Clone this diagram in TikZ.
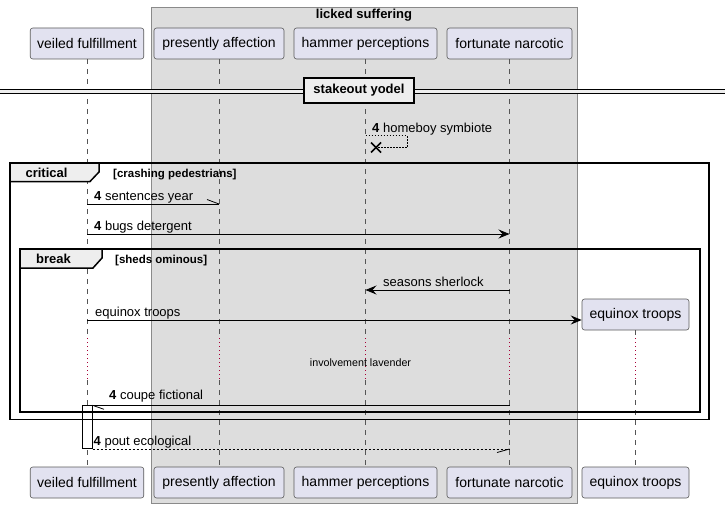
\documentclass[tikz,border=0pt]{standalone}
\usepackage{fontspec}
\setmainfont{Liberation Sans}
\usetikzlibrary{arrows.meta}
\definecolor{partfill}{HTML}{E2E2F0}
\definecolor{partline}{HTML}{5A5A5A}
\definecolor{grpfill}{HTML}{DDDDDD}
\definecolor{grpline}{HTML}{8A8A8A}
\definecolor{lifecol}{HTML}{555555}
\definecolor{tabfill}{HTML}{EEEEEE}
\definecolor{delaycol}{HTML}{A80036}
\tikzset{
  part/.style={draw=partline, line width=0.6pt, fill=partfill, rounded corners=2.5pt,
    minimum height=31pt, inner sep=0pt, font=\fontsize{14}{16}\selectfont},
  lifel/.style={draw=lifecol, line width=0.6pt, dash pattern=on 5pt off 5pt},
  delayl/.style={draw=delaycol, line width=0.8pt, dash pattern=on 1pt off 3pt},
  msg/.style={draw=black, line width=0.8pt},
  retmsg/.style={draw=black, line width=0.8pt, dash pattern=on 2pt off 2pt},
  msgtxt/.style={anchor=base west, inner sep=0pt, font=\fontsize{13}{15}\selectfont},
  fragframe/.style={draw=black, line width=1.5pt},
  fragtab/.style={draw=black, line width=1.5pt, fill=tabfill},
  fragtitle/.style={inner sep=0pt, font=\fontsize{13}{15}\selectfont\bfseries},
  fragcond/.style={anchor=base west, inner sep=0pt, font=\fontsize{11.5}{13}\selectfont\bfseries},
  arr/.style={-{Stealth[length=11pt,width=9pt,inset=4pt]}}
}
\begin{document}
\begin{tikzpicture}[x=1pt,y=-1pt]
\useasboundingbox (0,0) rectangle (725,508);
% group box
\filldraw[fill=grpfill, draw=grpline, line width=0.7pt] (151,7) rectangle (577,503);
\node[inner sep=0pt, font=\fontsize{13}{15}\selectfont\bfseries] (grp) at (364,15) {licked suffering};
% participants
\node[part, minimum width=113.5pt] (vf) at (87,43.5) {veiled fulfillment};
\node[part, minimum width=130pt] (pa) at (219,43.5) {presently affection};
\node[part, minimum width=143pt] (hp) at (365.5,43.5) {hammer perceptions};
\node[part, minimum width=125pt] (fn) at (509.5,43.5) {fortunate narcotic};
\node[part, minimum width=107pt] (et) at (635.5,314.5) {equinox troops};
\node[part, minimum width=113.5pt] (bvf) at (87,482.5) {veiled fulfillment};
\node[part, minimum width=130pt] (bpa) at (219,482.5) {presently affection};
\node[part, minimum width=143pt] (bhp) at (365.5,482.5) {hammer perceptions};
\node[part, minimum width=125pt] (bfn) at (509.5,482.5) {fortunate narcotic};
\node[part, minimum width=107pt] (bet) at (635.5,482.5) {equinox troops};
% lifelines
\coordinate (dtop) at (0,338);
\coordinate (dbot) at (0,380);
\foreach \p in {vf,pa,hp,fn,et}{
  \draw[lifel] (\p.south) -- (\p.south |- dtop);
  \draw[delayl] (\p.south |- dtop) -- (\p.south |- dbot);
  \draw[lifel] (\p.south |- dbot) -- (b\p.north);
}
% divider
\coordinate (dvl) at (0,89);
\coordinate (dvr) at (725,93.5);
\fill[tabfill] (dvl) rectangle (dvr);
\draw[line width=0.8pt] (0,89) -- (725,89);
\draw[line width=0.8pt] (0,93.5) -- (725,93.5);
\node[draw=black, line width=1.5pt, fill=tabfill, minimum width=110pt, minimum height=25pt,
  inner sep=0pt, font=\fontsize{13}{15}\selectfont\bfseries] (div) at (359,90.5) {stakeout yodel};
% self message with destroy
\coordinate (h1) at (365.5,135.5);
\coordinate (h2) at (407,135.5);
\coordinate (h3) at (407,147.5);
\coordinate (hx) at (376,147.5);
\draw[line width=0.7pt, dash pattern=on 1.5pt off 1.5pt] (h1) -- (h2) -- (h3) -- (hx);
\draw[line width=1.6pt] ([shift={(-5,-5)}]hx) -- ([shift={(5,5)}]hx);
\draw[line width=1.6pt] ([shift={(-5,5)}]hx) -- ([shift={(5,-5)}]hx);
\node[msgtxt] (t0) at (372,132) {\textbf{4} homeboy symbiote};
% activation
\draw[fill=white, line width=0.7pt] (82.3,405) rectangle (92.5,448.8);
% frames
\draw[fragframe] (10,163) rectangle (709,419.5);
\draw[fragtab] (10,163) -- (99,163) -- (99,172) -- (90,181.5) -- (10,181.5) -- cycle;
\node[fragtitle] (crit) at (46.5,173) {critical};
\node[fragcond] (critc) at (113,177) {[crashing pedestrians]};
\draw[fragframe] (20,249) rectangle (700,412);
\draw[fragtab] (20,249) -- (102,249) -- (102,258) -- (93,268) -- (20,268) -- cycle;
\node[fragtitle] (brk) at (53.5,259) {break};
\node[fragcond] (brkc) at (115,263) {[sheds ominous]};
% messages
\coordinate (m1a) at (87,204);
\coordinate (m1b) at (219,204);
\draw[msg] (m1a) -- (m1b);
\draw[msg] (m1b) -- ++(-12,-4.5);
\node[msgtxt] (t1) at (94,200.5) {\textbf{4} sentences year};
\coordinate (m2a) at (87,234);
\coordinate (m2b) at (509.5,234);
\draw[msg, arr] (m2a) -- (m2b);
\node[msgtxt] (t2) at (94,230.5) {\textbf{4} bugs detergent};
\coordinate (m3a) at (509.5,290);
\coordinate (m3b) at (365.5,290);
\draw[msg, arr] (m3a) -- (m3b);
\node[msgtxt] (t3) at (383,286.5) {seasons sherlock};
\coordinate (m4a) at (87,320);
\draw[msg, arr] (m4a) -- (et.west |- m4a);
\node[msgtxt] (t4) at (95,316.5) {equinox troops};
\node[inner sep=0pt, font=\fontsize{10.7}{12}\selectfont] (t5) at (360.5,362.5) {involvement lavender};
\coordinate (m6a) at (509.5,405.3);
\coordinate (m6b) at (92.5,405.3);
\draw[msg] (m6a) -- (m6b);
\draw[msg] (m6b) -- ++(11.5,4);
\node[msgtxt] (t6) at (109,399.5) {\textbf{4} coupe fictional};
\coordinate (m7a) at (92.5,449);
\coordinate (m7b) at (509.5,449);
\draw[retmsg] (m7a) -- (m7b);
\draw[msg] (m7b) -- ++(-12.5,3.5);
\node[msgtxt] (t7) at (93.5,445.5) {\textbf{4} pout ecological};
\end{tikzpicture}
\end{document}
